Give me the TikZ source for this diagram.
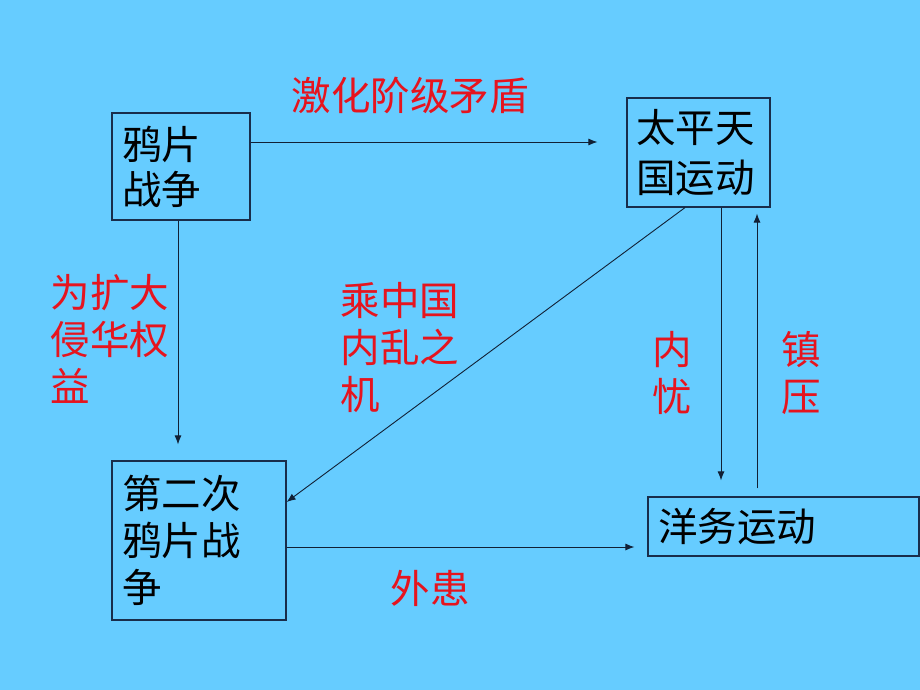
\documentclass[tikz,border=0pt]{standalone}
\usepackage{fontspec}
\setmainfont{Noto Sans CJK SC}
\usetikzlibrary{arrows.meta}
\definecolor{bg}{RGB}{102,204,255}
\definecolor{edge}{RGB}{25,45,75}
\definecolor{lred}{RGB}{230,20,30}
\begin{document}
\begin{tikzpicture}[x=1pt,y=-1pt,
  box/.style={draw=edge,line width=1.2pt,rectangle,align=left,inner ysep=0pt,
    font=\fontsize{39.5}{47}\selectfont,text=black},
  lab/.style={align=left,text=lred,font=\fontsize{39.5}{47}\selectfont,inner sep=0pt},
  arr/.style={draw=edge!70!black,line width=0.9pt,-{Latex[length=9pt,width=7pt]}}]
\fill[bg] (0,0) rectangle (920,690);
\useasboundingbox (0,0) rectangle (920,690);
\node[box,text width=118pt,inner xsep=10pt,minimum height=107pt,font=\fontsize{39.5}{45}\selectfont] (b1) at (181,166.5) {鸦片\\战争};
\node[box,text width=125pt,inner xsep=9pt,minimum height=109pt,font=\fontsize{39.5}{50}\selectfont] (b2) at (698.5,152.5) {太平天\\国运动};
\node[box,text width=154pt,inner xsep=10pt,minimum height=159pt] (b3) at (199,540.5) {第二次\\鸦片战\\争};
\node[box,text width=251pt,inner xsep=10pt,minimum height=59pt] (b4) at (783.5,526.5) {洋务运动};
\node[lab] (l1) at (410,95) {激化阶级矛盾};
\node[lab] (l2) at (110,339) {为扩大\\侵华权\\益};
\node[lab] (l3) at (400,347) {乘中国\\内乱之\\机};
\node[lab] (l4) at (672,373) {内\\忧};
\node[lab] (l5) at (801,373) {镇\\压};
\node[lab] (l6) at (430,588) {外患};
\draw[arr,shorten >=29pt] (b1.east |- 0,142) -- (b2.west |- 0,142);
\draw[arr,shorten >=16pt] (b1.south -| 178,0) -- (b3.north -| 178,0);
\draw[arr] (b2.south -| 685,0) -- (b3.east |- 0,502);
\draw[arr,shorten >=16pt] (b2.south -| 721,0) -- (b4.north -| 721,0);
\draw[arr,shorten <=8pt,shorten >=6pt] (b4.north -| 757,0) -- (b2.south -| 757,0);
\draw[arr,shorten >=13pt] (b3.east |- 0,547) -- (b4.west |- 0,547);
\end{tikzpicture}
\end{document}
